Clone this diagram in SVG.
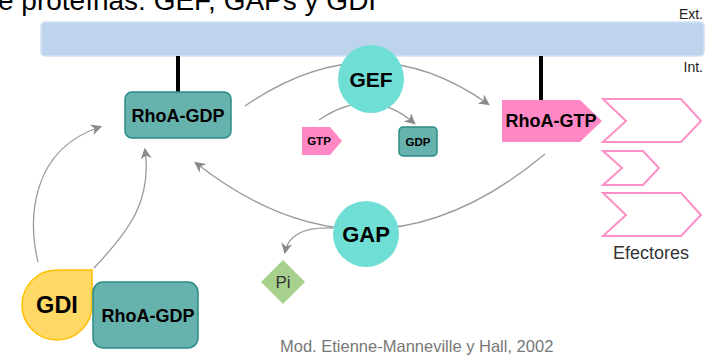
<svg xmlns="http://www.w3.org/2000/svg" width="708" height="356" viewBox="0 0 708 356">
<defs>
<style>
.t{font-family:"Liberation Sans",Arial,sans-serif;}
.b{font-weight:bold;fill:#000;text-anchor:middle;}
.teal{fill:#66b2ad;stroke:#2a8c85;stroke-width:1.5;}
.pink{fill:#ff88c4;}
.chev{fill:#fff;stroke:#ff8fc6;stroke-width:2;}
.circ{fill:#6fdfd6;}
.con{fill:none;stroke:#9a9a9a;stroke-width:1.3;}
.anc{stroke:#000;stroke-width:4;}
</style>
<marker id="ah" viewBox="0 0 10 10" refX="8" refY="5" markerWidth="11" markerHeight="11" markerUnits="userSpaceOnUse" orient="auto">
<path d="M0,0 L10,5 L0,10 L3,5 Z" fill="#8a8a8a"/>
</marker>
</defs>
<rect width="708" height="356" fill="#fff"/>
<text class="t" x="-2" y="10" font-size="28" fill="#000">e proteínas: GEF, GAPs y GDI</text>

<g id="membrane">
<rect x="41" y="22" width="663" height="34" rx="4" fill="#bed4ec" stroke="#d3e2f3" stroke-width="1.5"/>
<text class="t" x="703" y="19" font-size="14" text-anchor="end" fill="#222">Ext.</text>
<text class="t" x="703" y="72" font-size="14" text-anchor="end" fill="#222">Int.</text>
</g>

<g id="connectors">
<line class="anc" x1="178" y1="56" x2="178" y2="93"/>
<line class="anc" x1="541" y1="56" x2="541" y2="100"/>
<path class="con" d="M245,106 Q370,20 488,104" marker-end="url(#ah)"/>
<path class="con" d="M319,120 Q370,85 414,123" marker-end="url(#ah)"/>
<path class="con" d="M545,154 Q370,300 196,163" marker-end="url(#ah)"/>
<path class="con" d="M333,228 Q290,226 285,252" marker-end="url(#ah)"/>
<path class="con" d="M38,262 C28,220 30,150 100,127" marker-end="url(#ah)"/>
<path class="con" d="M94,268 C130,230 152,200 145,150" marker-end="url(#ah)"/>
</g>

<g id="rhoa-gdp">
<rect class="teal" x="125" y="92" width="106" height="46" rx="7"/>
<text class="t b" x="178" y="122" font-size="18">RhoA-GDP</text>
</g>

<g id="gef">
<ellipse class="circ" cx="371" cy="79" rx="33" ry="34"/>
<text class="t b" x="371" y="87" font-size="21">GEF</text>
</g>

<g id="gtp">
<path class="pink" d="M302,127 L330,127 L342,141 L330,155 L302,155 Z"/>
<text class="t b" x="319" y="145" font-size="11.5">GTP</text>
</g>

<g id="gdp">
<rect class="teal" x="399" y="127" width="38" height="29" rx="4"/>
<text class="t b" x="418" y="146" font-size="11.5">GDP</text>
</g>

<g id="rhoa-gtp">
<path class="pink" d="M502,100 L580,100 L602,121 L580,142 L502,142 Z"/>
<text class="t b" x="551" y="127" font-size="18">RhoA-GTP</text>
</g>

<g id="efectores">
<path class="chev" d="M603,99 L681,99 L701,121 L681,142 L603,142 L626,121 Z"/>
<path class="chev" d="M603,151 L643,151 L659,168 L643,185 L603,185 L622,168 Z"/>
<path class="chev" d="M603,193 L681,193 L701,215 L681,236 L603,236 L626,215 Z"/>
<text class="t" x="651" y="259" font-size="18" text-anchor="middle" fill="#333">Efectores</text>
</g>

<g id="gap">
<circle class="circ" cx="366" cy="234" r="33"/>
<text class="t b" x="366" y="242" font-size="22">GAP</text>
</g>

<g id="pi">
<path d="M283,260 L305,282 L283,304 L261,282 Z" fill="#a9d18e"/>
<text class="t" x="283" y="288" font-size="17" text-anchor="middle" fill="#333">Pi</text>
</g>

<g id="gdi">
<path d="M92,270 L92,305 A35,35 0 1 1 57,270 Z" fill="#ffd966" stroke="#ffc000" stroke-width="1.5"/>
<text class="t b" x="57" y="313" font-size="23.5">GDI</text>
</g>

<g id="rhoa-gdp-2">
<rect class="teal" x="93" y="282" width="105" height="66" rx="10"/>
<text class="t b" x="148" y="322" font-size="18">RhoA-GDP</text>
</g>

<text class="t" x="280" y="352" font-size="16.5" fill="#777">Mod. Etienne-Manneville y Hall, 2002</text>
</svg>
